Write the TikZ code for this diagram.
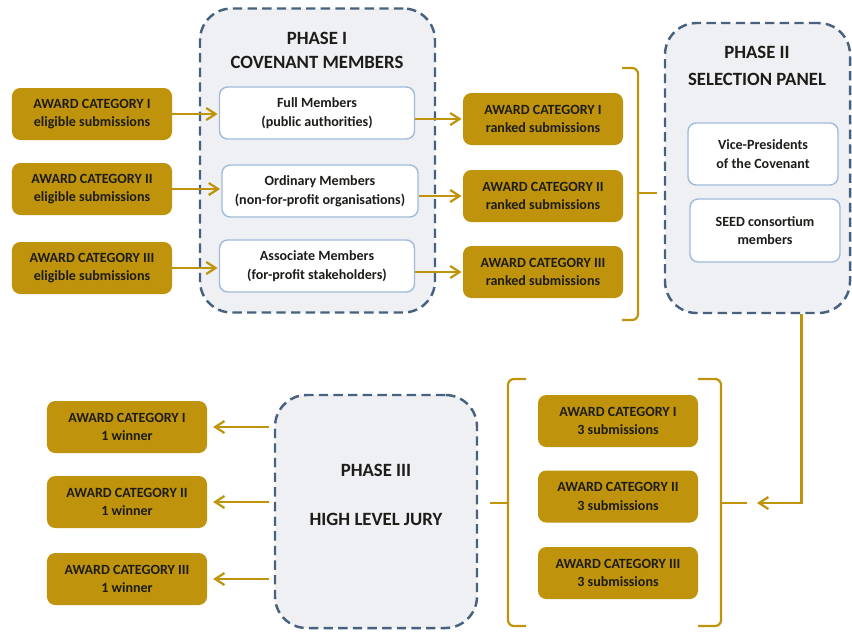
\documentclass[tikz,border=0pt]{standalone}
\usepackage{fontspec}
\setmainfont{Carlito}
\usetikzlibrary{arrows.meta, positioning}

\definecolor{awardgold}{RGB}{191,148,12}
\definecolor{phaseline}{RGB}{72,97,127}
\definecolor{phasefill}{RGB}{238,240,243}
\definecolor{memberline}{RGB}{160,187,218}
\definecolor{textdark}{RGB}{30,28,25}

\begin{document}
\begin{tikzpicture}[x=0.03cm, y=-0.03cm, >={Straight Barb[length=2.8mm,width=3.6mm]},
    award/.style={fill=awardgold, rounded corners=7pt, minimum width=4.8cm, minimum height=1.56cm,
        inner sep=0pt, align=center, text=textdark, font=\bfseries\fontsize{12}{16}\selectfont},
    member/.style={draw=memberline, fill=white, line width=1.2pt, rounded corners=7pt, minimum height=1.56cm,
        inner sep=0pt, align=center, text=textdark, font=\bfseries\fontsize{12}{16}\selectfont},
    phase/.style={draw=phaseline, fill=phasefill, line width=2.1pt, dash pattern=on 8pt off 4.5pt,
        rounded corners=0.95cm, inner sep=0pt},
    title/.style={align=center, text=textdark, font=\bfseries\fontsize{16}{20.5}\selectfont},
    flow/.style={draw=awardgold, line width=1.9pt},
    bracket/.style={draw=awardgold, line width=1.9pt, rounded corners=5pt}]
    \useasboundingbox (0,0) rectangle (852,631);

    % Phase I: covenant members
    \node[phase, minimum width=7.05cm, minimum height=9.12cm] (ph1) at (317.5,160.5) {};
    \node[title] (ph1title) at (317,50) {PHASE I\\COVENANT MEMBERS};
    \node[member, minimum width=5.85cm] (mem1) at (317,113) {Full Members\\(public authorities)};
    \node[member, minimum width=5.88cm] (mem2) at (320,191) {Ordinary Members\\(non-for-profit organisations)};
    \node[member, minimum width=5.85cm] (mem3) at (317,266) {Associate Members\\(for-profit stakeholders)};

    % Eligible submissions
    \node[award] (elig1) at (92,114) {AWARD CATEGORY I\\eligible submissions};
    \node[award] (elig2) at (92,189) {AWARD CATEGORY II\\eligible submissions};
    \node[award] (elig3) at (92,268) {AWARD CATEGORY III\\eligible submissions};

    % Ranked submissions
    \node[award] (rank1) at (543,119) {AWARD CATEGORY I\\ranked submissions};
    \node[award] (rank2) at (543,196) {AWARD CATEGORY II\\ranked submissions};
    \node[award] (rank3) at (543,272) {AWARD CATEGORY III\\ranked submissions};

    % Phase II: selection panel
    \node[phase, minimum width=5.55cm, minimum height=8.7cm] (ph2) at (757.5,168) {};
    \node[title, font=\bfseries\fontsize{16}{23}\selectfont] (ph2title) at (757,66) {PHASE II\\SELECTION PANEL};
    \node[member, minimum width=4.5cm, minimum height=1.86cm] (vp) at (763,154) {Vice-Presidents\\of the Covenant};
    \node[member, minimum width=4.5cm, minimum height=1.89cm] (seed) at (765,230.5) {SEED consortium\\members};

    % Phase III: high level jury
    \node[phase, minimum width=6.06cm, minimum height=6.99cm] (ph3) at (376,511.5) {};
    \node[title] (ph3title) at (376,495) {PHASE III\\[21.5pt]HIGH LEVEL JURY};

    % Shortlisted submissions
    \node[award] (sub1) at (618,421) {AWARD CATEGORY I\\3 submissions};
    \node[award] (sub2) at (618,496.5) {AWARD CATEGORY II\\3 submissions};
    \node[award] (sub3) at (618,573) {AWARD CATEGORY III\\3 submissions};

    % Winners
    \node[award] (win1) at (127,427) {AWARD CATEGORY I\\1 winner};
    \node[award] (win2) at (127,502) {AWARD CATEGORY II\\1 winner};
    \node[award] (win3) at (127,579) {AWARD CATEGORY III\\1 winner};

    % Bracket ends
    \coordinate (br1tip) at (657,193);
    \coordinate (br2in) at (757,503);
    \coordinate (br2out) at (747,503);
    \coordinate (br3tip) at (490,503);

    % Brackets
    \draw[bracket] (622,68) -- (638,68) -- (638,320) -- (622,320);
    \draw[bracket] (638,193) -- (br1tip);
    \draw[bracket] (698,379) -- (721,379) -- (721,626) -- (698,626);
    \draw[bracket] (721,503) -- (br2out);
    \draw[bracket] (526,379) -- (508,379) -- (508,626) -- (526,626);
    \draw[bracket] (508,503) -- (br3tip);

    % Arrows
    \draw[flow, ->, shorten >=1pt] (elig1.east) -- (elig1.east -| mem1.west);
    \draw[flow, ->, shorten >=1pt] (elig2.east) -- (elig2.east -| mem2.west);
    \draw[flow, ->, shorten >=1pt] (elig3.east) -- (elig3.east -| mem3.west);
    \draw[flow, ->, shorten >=1pt] (mem1.east |- rank1) -- (rank1.west);
    \draw[flow, ->, shorten >=1pt] (mem2.east |- rank2) -- (rank2.west);
    \draw[flow, ->, shorten >=1pt] (mem3.east |- rank3) -- (rank3.west);
    \draw[flow, ->] ([xshift=1.32cm]ph2.south) |- (br2in);
    \draw[flow, ->, shorten <=4pt, shorten >=5pt] (ph3.west |- win1) -- (win1.east);
    \draw[flow, ->, shorten <=4pt, shorten >=5pt] (ph3.west |- win2) -- (win2.east);
    \draw[flow, ->, shorten <=4pt, shorten >=5pt] (ph3.west |- win3) -- (win3.east);
\end{tikzpicture}
\end{document}
